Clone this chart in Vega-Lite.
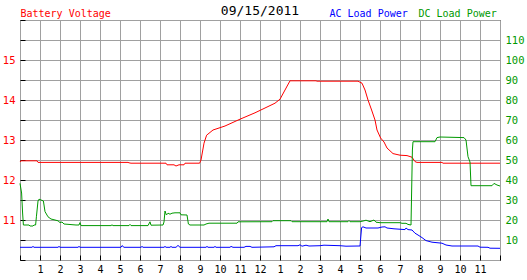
{
  "$schema": "https://vega.github.io/schema/vega-lite/v6.json",
  "width": 480,
  "height": 240,
  "autosize": "none",
  "padding": {"left": 20, "top": 20, "right": 27, "bottom": 20},
  "background": "white",
  "config": {
    "view": {"stroke": "black", "strokeWidth": 1},
    "font": "DejaVu Sans Mono",
    "axis": {"labelFont": "DejaVu Sans Mono", "titleFont": "DejaVu Sans Mono", "titleFontWeight": "normal", "domain": false, "labelOverlap": false, "labelFlush": false}
  },
  "title": {"text": "09/15/2011", "frame": "group", "anchor": "middle", "offset": 5, "dy": 25, "baseline": "alphabetic", "fontSize": 13, "fontWeight": "normal", "font": "DejaVu Sans Mono", "color": "black"},
  "datasets": {
    "volt": [
      {"t": 0, "v": 12.45}, {"t": 0.05, "v": 12.48}, {"t": 0.85, "v": 12.48}, {"t": 0.9, "v": 12.44},
      {"t": 5.4, "v": 12.44}, {"t": 5.45, "v": 12.43}, {"t": 5.55, "v": 12.42}, {"t": 7.3, "v": 12.42},
      {"t": 7.35, "v": 12.38}, {"t": 7.7, "v": 12.38}, {"t": 7.8, "v": 12.35}, {"t": 7.95, "v": 12.38},
      {"t": 8.2, "v": 12.38}, {"t": 8.25, "v": 12.42}, {"t": 8.98, "v": 12.42}, {"t": 9.05, "v": 12.5},
      {"t": 9.2, "v": 12.92}, {"t": 9.33, "v": 13.12}, {"t": 9.65, "v": 13.25}, {"t": 10.25, "v": 13.35},
      {"t": 11.0, "v": 13.52}, {"t": 11.75, "v": 13.68}, {"t": 12.25, "v": 13.8}, {"t": 12.75, "v": 13.92},
      {"t": 13.0, "v": 14.02}, {"t": 13.25, "v": 14.25}, {"t": 13.5, "v": 14.48}, {"t": 14.8, "v": 14.48},
      {"t": 14.85, "v": 14.47}, {"t": 16.9, "v": 14.47}, {"t": 17.1, "v": 14.42}, {"t": 17.25, "v": 14.25},
      {"t": 17.4, "v": 14.0}, {"t": 17.58, "v": 13.75}, {"t": 17.75, "v": 13.5}, {"t": 17.85, "v": 13.25},
      {"t": 18.03, "v": 13.05}, {"t": 18.2, "v": 12.95}, {"t": 18.35, "v": 12.8}, {"t": 18.65, "v": 12.66},
      {"t": 19.0, "v": 12.62}, {"t": 19.35, "v": 12.61}, {"t": 19.6, "v": 12.57}, {"t": 19.75, "v": 12.46},
      {"t": 19.85, "v": 12.44}, {"t": 21.1, "v": 12.44}, {"t": 21.15, "v": 12.42}, {"t": 24, "v": 12.42}
    ],
    "power": [
      {"s": "AC", "t": 0, "p": 6.35}, {"s": "AC", "t": 0.6, "p": 6.35}, {"s": "AC", "t": 0.65, "p": 6.8}, {"s": "AC", "t": 0.7, "p": 6.35},
      {"s": "AC", "t": 1.9, "p": 6.35}, {"s": "AC", "t": 1.95, "p": 6.8}, {"s": "AC", "t": 2.0, "p": 6.35},
      {"s": "AC", "t": 2.9, "p": 6.35}, {"s": "AC", "t": 2.95, "p": 6.8}, {"s": "AC", "t": 3.0, "p": 6.35},
      {"s": "AC", "t": 5.05, "p": 6.35}, {"s": "AC", "t": 5.1, "p": 7.2}, {"s": "AC", "t": 5.2, "p": 6.35},
      {"s": "AC", "t": 6.05, "p": 6.35}, {"s": "AC", "t": 6.1, "p": 6.8}, {"s": "AC", "t": 6.15, "p": 6.35},
      {"s": "AC", "t": 7.2, "p": 6.35}, {"s": "AC", "t": 7.25, "p": 6.8}, {"s": "AC", "t": 7.3, "p": 6.35},
      {"s": "AC", "t": 7.5, "p": 6.35}, {"s": "AC", "t": 7.55, "p": 6.8}, {"s": "AC", "t": 7.6, "p": 6.35},
      {"s": "AC", "t": 7.8, "p": 6.35}, {"s": "AC", "t": 7.9, "p": 7.3}, {"s": "AC", "t": 8.0, "p": 6.35},
      {"s": "AC", "t": 9.3, "p": 6.35}, {"s": "AC", "t": 9.35, "p": 6.8}, {"s": "AC", "t": 9.4, "p": 6.35},
      {"s": "AC", "t": 9.7, "p": 6.35}, {"s": "AC", "t": 9.75, "p": 6.8}, {"s": "AC", "t": 9.8, "p": 6.35},
      {"s": "AC", "t": 10.5, "p": 6.35}, {"s": "AC", "t": 10.55, "p": 6.8}, {"s": "AC", "t": 10.65, "p": 6.35},
      {"s": "AC", "t": 11.2, "p": 6.35}, {"s": "AC", "t": 11.3, "p": 6.8}, {"s": "AC", "t": 11.5, "p": 6.8}, {"s": "AC", "t": 11.6, "p": 6.35},
      {"s": "AC", "t": 12.7, "p": 6.6}, {"s": "AC", "t": 12.8, "p": 7.15}, {"s": "AC", "t": 13.9, "p": 7.15},
      {"s": "AC", "t": 14.0, "p": 7.6}, {"s": "AC", "t": 14.1, "p": 6.9}, {"s": "AC", "t": 14.3, "p": 7.4}, {"s": "AC", "t": 14.45, "p": 7.0},
      {"s": "AC", "t": 15.0, "p": 7.15}, {"s": "AC", "t": 15.2, "p": 7.4}, {"s": "AC", "t": 16.0, "p": 7.15}, {"s": "AC", "t": 16.3, "p": 6.9},
      {"s": "AC", "t": 16.9, "p": 7.0}, {"s": "AC", "t": 17.0, "p": 7.0}, {"s": "AC", "t": 17.08, "p": 16.2}, {"s": "AC", "t": 17.15, "p": 16.6},
      {"s": "AC", "t": 17.3, "p": 16.0}, {"s": "AC", "t": 17.9, "p": 16.0}, {"s": "AC", "t": 18.1, "p": 16.5}, {"s": "AC", "t": 18.25, "p": 16.6},
      {"s": "AC", "t": 18.35, "p": 16.0}, {"s": "AC", "t": 18.7, "p": 15.6}, {"s": "AC", "t": 19.25, "p": 15.2}, {"s": "AC", "t": 19.3, "p": 16.0},
      {"s": "AC", "t": 19.4, "p": 15.2}, {"s": "AC", "t": 19.6, "p": 15.0}, {"s": "AC", "t": 19.75, "p": 13.4}, {"s": "AC", "t": 19.9, "p": 12.5},
      {"s": "AC", "t": 20.1, "p": 11.2}, {"s": "AC", "t": 20.3, "p": 9.7}, {"s": "AC", "t": 20.6, "p": 8.9}, {"s": "AC", "t": 21.1, "p": 8.4},
      {"s": "AC", "t": 21.3, "p": 7.5}, {"s": "AC", "t": 21.6, "p": 7.0}, {"s": "AC", "t": 22.9, "p": 7.0}, {"s": "AC", "t": 23.0, "p": 6.4},
      {"s": "AC", "t": 23.4, "p": 6.35}, {"s": "AC", "t": 23.5, "p": 5.9}, {"s": "AC", "t": 24, "p": 5.85},
      {"s": "DC", "t": 0, "p": 38.3}, {"s": "DC", "t": 0.08, "p": 33.5}, {"s": "DC", "t": 0.13, "p": 23.5}, {"s": "DC", "t": 0.17, "p": 17.5},
      {"s": "DC", "t": 0.45, "p": 17.5}, {"s": "DC", "t": 0.5, "p": 17.0}, {"s": "DC", "t": 0.65, "p": 17.0}, {"s": "DC", "t": 0.7, "p": 17.5},
      {"s": "DC", "t": 0.78, "p": 17.5}, {"s": "DC", "t": 0.82, "p": 21.6}, {"s": "DC", "t": 0.9, "p": 29.5}, {"s": "DC", "t": 0.95, "p": 30.4},
      {"s": "DC", "t": 1.1, "p": 29.8}, {"s": "DC", "t": 1.17, "p": 29.5}, {"s": "DC", "t": 1.25, "p": 24.2}, {"s": "DC", "t": 1.4, "p": 21.6},
      {"s": "DC", "t": 1.55, "p": 20.5}, {"s": "DC", "t": 1.75, "p": 20.0}, {"s": "DC", "t": 1.9, "p": 19.6}, {"s": "DC", "t": 2.0, "p": 18.7},
      {"s": "DC", "t": 2.1, "p": 19.0}, {"s": "DC", "t": 2.2, "p": 18.0}, {"s": "DC", "t": 2.8, "p": 17.5}, {"s": "DC", "t": 2.95, "p": 17.5},
      {"s": "DC", "t": 3.0, "p": 18.7}, {"s": "DC", "t": 3.05, "p": 17.2}, {"s": "DC", "t": 4.55, "p": 17.2}, {"s": "DC", "t": 4.6, "p": 17.6},
      {"s": "DC", "t": 4.65, "p": 17.2}, {"s": "DC", "t": 5.45, "p": 17.2}, {"s": "DC", "t": 5.5, "p": 17.8}, {"s": "DC", "t": 5.55, "p": 17.2},
      {"s": "DC", "t": 6.4, "p": 17.2}, {"s": "DC", "t": 6.5, "p": 19.1}, {"s": "DC", "t": 6.55, "p": 17.4}, {"s": "DC", "t": 7.15, "p": 17.5},
      {"s": "DC", "t": 7.2, "p": 19.0}, {"s": "DC", "t": 7.25, "p": 24.5}, {"s": "DC", "t": 7.32, "p": 22.5}, {"s": "DC", "t": 7.4, "p": 23.4},
      {"s": "DC", "t": 7.5, "p": 22.9}, {"s": "DC", "t": 7.6, "p": 23.4}, {"s": "DC", "t": 7.75, "p": 23.6}, {"s": "DC", "t": 8.0, "p": 23.6},
      {"s": "DC", "t": 8.05, "p": 22.6}, {"s": "DC", "t": 8.35, "p": 22.5}, {"s": "DC", "t": 8.42, "p": 18.0}, {"s": "DC", "t": 8.5, "p": 17.5},
      {"s": "DC", "t": 9.2, "p": 17.5}, {"s": "DC", "t": 9.3, "p": 18.0}, {"s": "DC", "t": 9.45, "p": 18.4}, {"s": "DC", "t": 10.85, "p": 18.4},
      {"s": "DC", "t": 10.9, "p": 19.1}, {"s": "DC", "t": 12.6, "p": 19.15}, {"s": "DC", "t": 12.65, "p": 19.65}, {"s": "DC", "t": 13.55, "p": 19.65},
      {"s": "DC", "t": 13.6, "p": 19.15}, {"s": "DC", "t": 15.35, "p": 19.15}, {"s": "DC", "t": 15.4, "p": 20.5}, {"s": "DC", "t": 15.45, "p": 19.15},
      {"s": "DC", "t": 16.4, "p": 19.15}, {"s": "DC", "t": 16.45, "p": 19.7}, {"s": "DC", "t": 16.5, "p": 19.15}, {"s": "DC", "t": 17.0, "p": 19.15},
      {"s": "DC", "t": 17.2, "p": 19.6}, {"s": "DC", "t": 17.3, "p": 19.9}, {"s": "DC", "t": 17.5, "p": 19.15}, {"s": "DC", "t": 17.7, "p": 20.0},
      {"s": "DC", "t": 17.8, "p": 18.9}, {"s": "DC", "t": 18.0, "p": 18.65}, {"s": "DC", "t": 19.0, "p": 18.65}, {"s": "DC", "t": 19.1, "p": 18.35},
      {"s": "DC", "t": 19.3, "p": 18.35}, {"s": "DC", "t": 19.4, "p": 17.8}, {"s": "DC", "t": 19.55, "p": 17.5}, {"s": "DC", "t": 19.62, "p": 55},
      {"s": "DC", "t": 19.65, "p": 59.15}, {"s": "DC", "t": 20.75, "p": 59.15}, {"s": "DC", "t": 20.85, "p": 61.2}, {"s": "DC", "t": 21.0, "p": 61.5},
      {"s": "DC", "t": 22.2, "p": 61.2}, {"s": "DC", "t": 22.3, "p": 60}, {"s": "DC", "t": 22.4, "p": 51.65}, {"s": "DC", "t": 22.5, "p": 49},
      {"s": "DC", "t": 22.55, "p": 37.15}, {"s": "DC", "t": 23.6, "p": 37.15}, {"s": "DC", "t": 23.7, "p": 38.3}, {"s": "DC", "t": 23.85, "p": 37.5},
      {"s": "DC", "t": 24, "p": 37.0}
    ]
  },
  "layer": [
    {
      "data": {"name": "volt"},
      "mark": {"type": "line", "color": "#ff0000", "strokeWidth": 1},
      "encoding": {
        "x": {
          "field": "t", "type": "quantitative",
          "scale": {"domain": [0, 24], "nice": false, "zero": false},
          "axis": {
            "orient": "bottom", "title": null,
            "values": [0,1,2,3,4,5,6,7,8,9,10,11,12,13,14,15,16,17,18,19,20,21,22,23,24],
            "grid": true, "gridColor": "#a0a0a0", "gridOpacity": 1, "gridWidth": 1,
            "tickColor": "black", "tickSize": -5, "labelPadding": 9,
            "labelExpr": "datum.value == 0 || datum.value == 24 ? '' : (datum.value % 12 == 0 ? '12' : '' + (datum.value % 12))",
            "labelColor": "black", "labelFontSize": 10
          }
        },
        "y": {
          "field": "v", "type": "quantitative",
          "scale": {"domain": [10, 16], "nice": false, "zero": false},
          "axis": {
            "orient": "left",
            "values": [10,10.5,11,11.5,12,12.5,13,13.5,14,14.5,15,15.5,16],
            "grid": true, "gridColor": "#a0a0a0", "gridOpacity": 1, "gridWidth": 1,
            "tickColor": "black", "tickSize": -5, "labelPadding": 10,
            "labelExpr": "datum.value % 1 == 0 && datum.value > 10 && datum.value < 16 ? '' + datum.value : ''",
            "labelColor": "#ff0000", "labelFontSize": 10.5,
            "title": "Battery Voltage", "titleAngle": 0, "titleAlign": "left", "titleBaseline": "alphabetic",
            "titleX": 0, "titleY": -4, "titleColor": "#ff0000", "titleFontSize": 10
          }
        }
      }
    },
    {
      "data": {"name": "power"},
      "mark": {"type": "line", "strokeWidth": 1},
      "encoding": {
        "x": {
          "field": "t", "type": "quantitative",
          "scale": {"domain": [0, 24], "nice": false, "zero": false},
          "axis": {
            "orient": "top", "grid": false, "ticks": false, "labels": false, "domain": false,
            "title": "AC Load Power", "titleX": 309, "titleY": -4, "titleAlign": "left", "titleBaseline": "alphabetic",
            "titleColor": "#0000ff", "titleFontSize": 10, "titleAngle": 0
          }
        },
        "y": {
          "field": "p", "type": "quantitative",
          "scale": {"domain": [0, 120], "nice": false, "zero": false},
          "axis": {
            "orient": "right", "values": [10,20,30,40,50,60,70,80,90,100,110],
            "grid": false, "ticks": false, "labelPadding": 5,
            "labelColor": "#009900", "labelFontSize": 10.5,
            "title": "DC Load Power", "titleAngle": 0, "titleAlign": "left", "titleBaseline": "alphabetic",
            "titleX": -82, "titleY": -4, "titleColor": "#009900", "titleFontSize": 10
          }
        },
        "color": {
          "field": "s", "type": "nominal",
          "scale": {"domain": ["AC", "DC"], "range": ["#0000ff", "#009900"]},
          "legend": null
        }
      }
    }
  ],
  "resolve": {"scale": {"x": "independent", "y": "independent"}}
}
